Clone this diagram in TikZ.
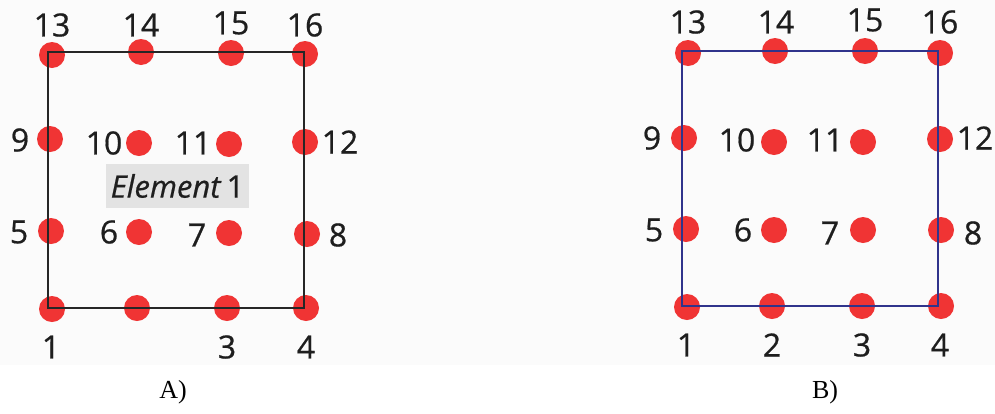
\documentclass[tikz,border=0pt]{standalone}
\usepackage{fontspec}
\setmainfont{Liberation Serif}
\newfontfamily\labfont[FakeBold=0.6]{Open Sans}
\definecolor{dotred}{RGB}{240,52,52}
\definecolor{sqblue}{RGB}{48,52,140}
\definecolor{boxgray}{RGB}{227,227,227}
\definecolor{bggray}{RGB}{251,251,251}
\definecolor{txt}{RGB}{30,30,30}
\tikzset{
  dot/.style={circle,fill=dotred,minimum size=26pt,inner sep=0pt},
  num/.style={font=\labfont\fontsize{32}{32}\selectfont,text=txt,inner sep=0pt},
  panelcap/.style={font=\fontsize{26}{26}\selectfont,inner sep=0pt},
  sqa/.style={draw=black!85,line width=1.4pt},
  sqb/.style={draw=sqblue,line width=2pt},
}
\begin{document}
\begin{tikzpicture}[x=1pt,y=-1pt]
\useasboundingbox (0,0) rectangle (995,413);
\fill[bggray] (0,0) rectangle (995,365);
% ---- Panel A ----
\foreach \n/\x/\y in {1/52/309,2/137/308,3/227/308,4/306/308,5/51/231,6/139/232,7/229/233,8/307/234,9/50/139,10/139/143,11/229/144,12/305/142,13/52/55,14/141/52,15/231/53,16/305/54}
  \node[dot] (a\n) at (\x,\y) {};
\coordinate (sa1) at (48,308);
\coordinate (sa4) at (304,308);
\coordinate (sa16) at (304,52);
\coordinate (sa13) at (48,52);
\draw[sqa] (sa1) -- (sa4) -- (sa16) -- (sa13) -- cycle;
\foreach \n/\x/\y in {13/52/25,14/141/25,15/231/23,16/305/25,9/20/140,10/104/143,11/193/143,12/340/142,5/19/232,6/109/232,7/197/235,8/338/235,1/51/347,3/227/347,4/306/347}
  \node[num] (la\n) at (\x,\y) {\n};
\node[fill=boxgray,minimum width=143pt,minimum height=44pt,inner sep=0pt,
  font=\labfont\fontsize{31}{31}\selectfont,text=txt] (elem) at (177.5,186) {\textit{Element}\,1};
\node[panelcap] (capA) at (173,392) {A)};
% ---- Panel B ----
\foreach \n/\x/\y in {1/687/307,2/772/306,3/862/306,4/941/306,5/686/229,6/774/230,7/863/230,8/941/230,9/684/138,10/774/142,11/863/142,12/940/139,13/688/53,14/775/51,15/865/51,16/940/53}
  \node[dot] (b\n) at (\x,\y) {};
\coordinate (sb1) at (682,306);
\coordinate (sb4) at (938,306);
\coordinate (sb16) at (938,51);
\coordinate (sb13) at (682,51);
\draw[sqb] (sb1) -- (sb4) -- (sb16) -- (sb13) -- cycle;
\foreach \n/\x/\y in {13/688/22,14/776/22,15/865/20,16/940/22,9/652/138,10/737/140,11/825/140,12/975/138,5/654/230,6/743/230,7/830/233,8/973/233,1/686/345,2/772/345,3/862/345,4/940/345}
  \node[num] (lb\n) at (\x,\y) {\n};
\node[panelcap] (capB) at (825,392) {B)};
\end{tikzpicture}
\end{document}
